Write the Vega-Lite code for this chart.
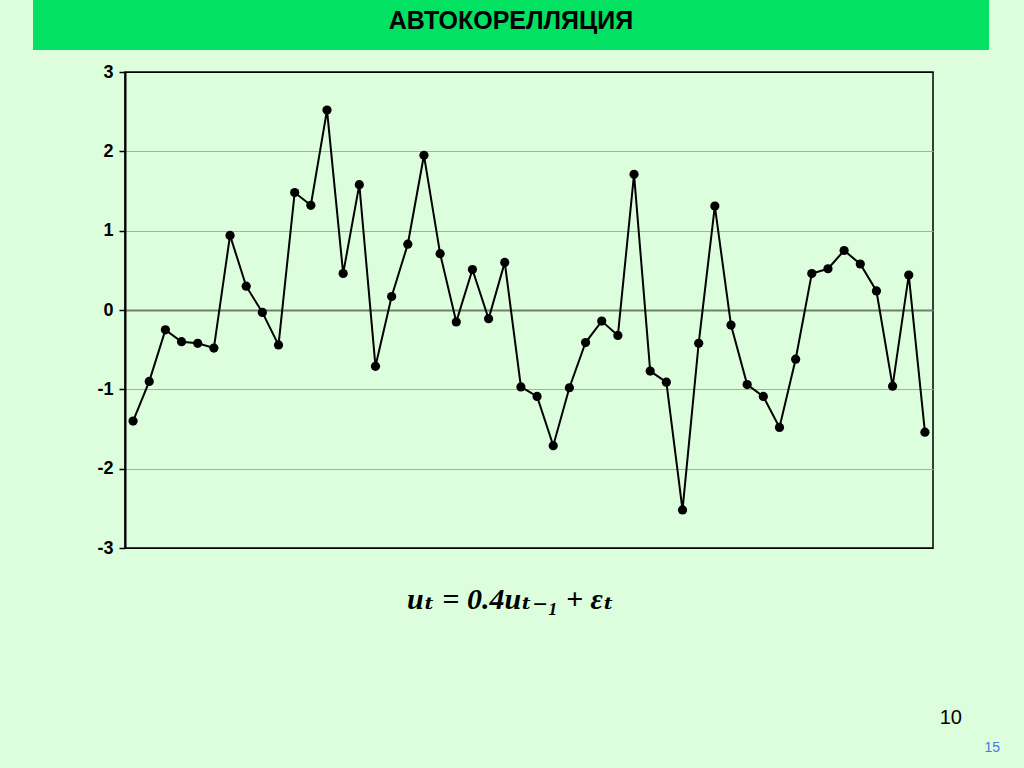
{
  "$schema": "https://vega.github.io/schema/vega-lite/v6.json",
  "background": "#DCFEDC",
  "padding": {"left": 33, "top": 0, "right": 40, "bottom": 30},
  "bounds": "flush",
  "spacing": 22,
  "config": {"view": {"stroke": null}, "font": "Liberation Sans"},
  "title": {
    "text": "15",
    "orient": "bottom",
    "anchor": "end",
    "align": "right",
    "dx": 11,
    "offset": 12,
    "font": "Liberation Sans",
    "fontSize": 14,
    "fontWeight": "normal",
    "color": "#4A78D8"
  },
  "vconcat": [
    {
      "width": 956,
      "height": 50,
      "view": {"fill": "#03E163", "stroke": null},
      "data": {"values": [{"heading": "АВТОКОРЕЛЛЯЦИЯ"}]},
      "mark": {"type": "text", "font": "Liberation Sans", "fontWeight": "bold", "fontSize": 25, "color": "black", "baseline": "middle", "dy": -4},
      "encoding": {"text": {"field": "heading"}}
    },
    {
      "bounds": "flush",
      "spacing": 91,
      "hconcat": [
        {
          "width": 1,
          "height": 476,
          "view": {"stroke": null},
          "data": {"values": [{}]},
          "mark": {"type": "text", "text": " "}
        },
        {
          "width": 808,
          "height": 476,
          "title": {
            "text": "10",
            "orient": "bottom",
            "anchor": "end",
            "align": "right",
            "dx": 29,
            "offset": 94,
            "font": "Liberation Sans",
            "fontSize": 20,
            "fontWeight": "normal",
            "color": "black"
          },
          "view": {"stroke": "black", "strokeWidth": 1.5},
          "data": {"values": [
            {"t": 1, "u": -1.40}, {"t": 2, "u": -0.90}, {"t": 3, "u": -0.25}, {"t": 4, "u": -0.40}, {"t": 5, "u": -0.42},
            {"t": 6, "u": -0.48}, {"t": 7, "u": 0.94}, {"t": 8, "u": 0.30}, {"t": 9, "u": -0.03}, {"t": 10, "u": -0.44},
            {"t": 11, "u": 1.48}, {"t": 12, "u": 1.32}, {"t": 13, "u": 2.52}, {"t": 14, "u": 0.46}, {"t": 15, "u": 1.58},
            {"t": 16, "u": -0.71}, {"t": 17, "u": 0.17}, {"t": 18, "u": 0.83}, {"t": 19, "u": 1.95}, {"t": 20, "u": 0.71},
            {"t": 21, "u": -0.15}, {"t": 22, "u": 0.51}, {"t": 23, "u": -0.11}, {"t": 24, "u": 0.60}, {"t": 25, "u": -0.97},
            {"t": 26, "u": -1.09}, {"t": 27, "u": -1.71}, {"t": 28, "u": -0.98}, {"t": 29, "u": -0.41}, {"t": 30, "u": -0.14},
            {"t": 31, "u": -0.32}, {"t": 32, "u": 1.71}, {"t": 33, "u": -0.77}, {"t": 34, "u": -0.91}, {"t": 35, "u": -2.52},
            {"t": 36, "u": -0.42}, {"t": 37, "u": 1.31}, {"t": 38, "u": -0.19}, {"t": 39, "u": -0.94}, {"t": 40, "u": -1.09},
            {"t": 41, "u": -1.48}, {"t": 42, "u": -0.62}, {"t": 43, "u": 0.46}, {"t": 44, "u": 0.52}, {"t": 45, "u": 0.75},
            {"t": 46, "u": 0.58}, {"t": 47, "u": 0.24}, {"t": 48, "u": -0.96}, {"t": 49, "u": 0.44}, {"t": 50, "u": -1.54}
          ]},
          "encoding": {
            "x": {
              "field": "t", "type": "ordinal",
              "scale": {"type": "point", "padding": 0.5},
              "axis": {
                "labels": false, "ticks": false, "domain": false, "grid": false,
                "title": "uₜ = 0.4uₜ₋₁ + εₜ",
                "titleFont": "Liberation Serif, DejaVu Serif",
                "titleFontSize": 30,
                "titleFontStyle": "italic",
                "titleFontWeight": "bold",
                "titleColor": "black",
                "titlePadding": 36,
                "titleX": 385
              }
            },
            "y": {
              "field": "u", "type": "quantitative",
              "scale": {"domain": [-3, 3], "nice": false, "zero": false},
              "axis": {
                "values": [-3, -2, -1, 0, 1, 2, 3],
                "title": null,
                "labelExpr": "replace(datum.label, '\u2212', '-')",
                "labelFont": "Liberation Sans",
                "labelFontWeight": "bold",
                "labelFontSize": 18,
                "labelColor": "black",
                "labelPadding": 6,
                "tickColor": "black",
                "tickSize": 6,
                "tickWidth": 1.5,
                "domainColor": "black",
                "domainWidth": 2,
                "grid": true,
                "gridColor": {"condition": [{"test": "datum.value === 0", "value": "#6E7F6E"}, {"test": "abs(datum.value) === 3", "value": "black"}], "value": "#9CB49C"},
                "gridWidth": {"condition": {"test": "datum.value === 0", "value": 2}, "value": 1.2}
              }
            }
          },
          "layer": [
            {"mark": {"type": "line", "color": "black", "strokeWidth": 2}},
            {"mark": {"type": "circle", "color": "black", "size": 85, "opacity": 1}}
          ]
        }
      ]
    }
  ]
}
